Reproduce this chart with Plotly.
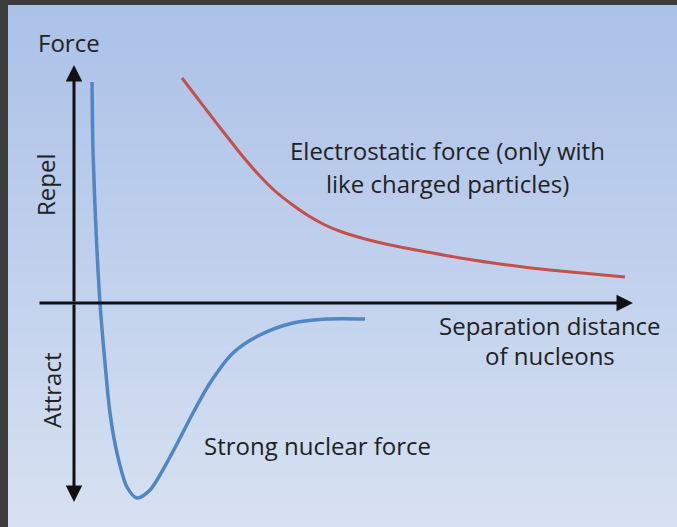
import base64
import struct
import zlib

import plotly.graph_objects as go

# Curves (arbitrary units: separation distance vs force)
strong_x = [0.36, 0.38, 0.44, 0.52, 0.62, 0.72, 0.86, 1.06, 1.26, 1.52, 1.92,
            2.38, 2.72, 3.18, 3.72, 4.38, 5.06, 5.82]
strong_y = [4.42, 3.06, 1.46, 0.0, -1.2, -2.2, -3.0, -3.68, -3.9, -3.74, -3.08,
            -2.2, -1.6, -1.0, -0.64, -0.4, -0.32, -0.32]

electro_x = [2.16, 2.42, 2.68, 3.02, 3.36, 3.68, 4.02, 4.36, 4.68, 5.02, 5.36,
             5.68, 6.02, 6.38, 7.06, 7.72, 8.38, 9.06, 9.72, 10.38, 11.02]
electro_y = [4.50, 4.16, 3.82, 3.38, 2.95, 2.58, 2.24, 1.97, 1.75, 1.56, 1.42,
             1.32, 1.23, 1.15, 1.02, 0.90, 0.80, 0.71, 0.64, 0.58, 0.52]

W, H = 677, 527
X_RANGE = [-74 / 50, (W - 74) / 50]
Y_RANGE = [(303 - H) / 50, 303 / 50]


def gradient_png(top, bot, n=128):
    """1px wide vertical gradient as a base64 PNG (stretched over the panel)"""
    rows = b''
    for i in range(n):
        t = i / (n - 1)
        rows += b'\x00' + bytes(round(a + (b - a) * t) for a, b in zip(top, bot))

    def chunk(tag, data):
        return (struct.pack('>I', len(data)) + tag + data +
                struct.pack('>I', zlib.crc32(tag + data) & 0xffffffff))

    png = (b'\x89PNG\r\n\x1a\n' +
           chunk(b'IHDR', struct.pack('>IIBBBBB', 1, n, 8, 2, 0, 0, 0)) +
           chunk(b'IDAT', zlib.compress(rows)) +
           chunk(b'IEND', b''))
    return 'data:image/png;base64,' + base64.b64encode(png).decode()


fig = go.Figure()

fig.add_trace(go.Scatter(x=strong_x, y=strong_y, mode='lines',
                         line=dict(color='#4f86c3', width=3.5, shape='spline', smoothing=0.8),
                         hoverinfo='skip'))
fig.add_trace(go.Scatter(x=electro_x, y=electro_y, mode='lines',
                         line=dict(color='#c4504c', width=3, shape='spline', smoothing=0.8),
                         hoverinfo='skip'))

axis_style = dict(showarrow=True, text='', xref='x', yref='y', axref='x', ayref='y',
                  arrowhead=2, arrowsize=1.1, arrowwidth=3, arrowcolor='#111111')
annotations = [
    dict(x=0, y=4.76, ax=0, ay=0, **axis_style),
    dict(x=0, y=-3.98, ax=0, ay=0, **axis_style),
    dict(x=11.18, y=0, ax=-0.72, ay=0, **axis_style),
]

txt_font = dict(family='Open Sans, sans-serif', size=24, color='#222222')
labels = [
    ('Force', -0.1, 5.22, 0),
    ('Repel', -0.58, 2.36, -90),
    ('Attract', -0.46, -1.76, -90),
    ('Electrostatic force (only with', 7.46, 3.06, 0),
    ('like charged particles)', 7.46, 2.40, 0),
    ('Separation distance', 9.52, -0.44, 0),
    ('of nucleons', 9.52, -1.04, 0),
    ('Strong nuclear force', 4.86, -2.84, 0),
]
for text, x, y, rot in labels:
    annotations.append(dict(text=text, x=x, y=y, xref='x', yref='y', showarrow=False,
                            textangle=rot, font=txt_font, xanchor='center', yanchor='middle'))

fig.update_layout(
    width=W, height=H,
    margin=dict(l=0, r=0, t=0, b=0),
    paper_bgcolor='#3c3c3c',
    plot_bgcolor='rgba(0,0,0,0)',
    showlegend=False,
    xaxis=dict(range=X_RANGE, visible=False, fixedrange=True),
    yaxis=dict(range=Y_RANGE, visible=False, fixedrange=True),
    images=[dict(source=gradient_png((171, 193, 232), (215, 225, 241)),
                 xref='paper', yref='paper', x=8 / W, y=1 - 5 / H,
                 sizex=1 - 8 / W, sizey=1 - 5 / H, xanchor='left', yanchor='top',
                 sizing='stretch', layer='below')],
    annotations=annotations,
)

# drop the page's default body margin so the figure sits at the window origin
fig.write_html("out.html", config={'displayModeBar': False},
               post_script="document.body.style.margin='0';document.body.style.overflow='hidden';")
